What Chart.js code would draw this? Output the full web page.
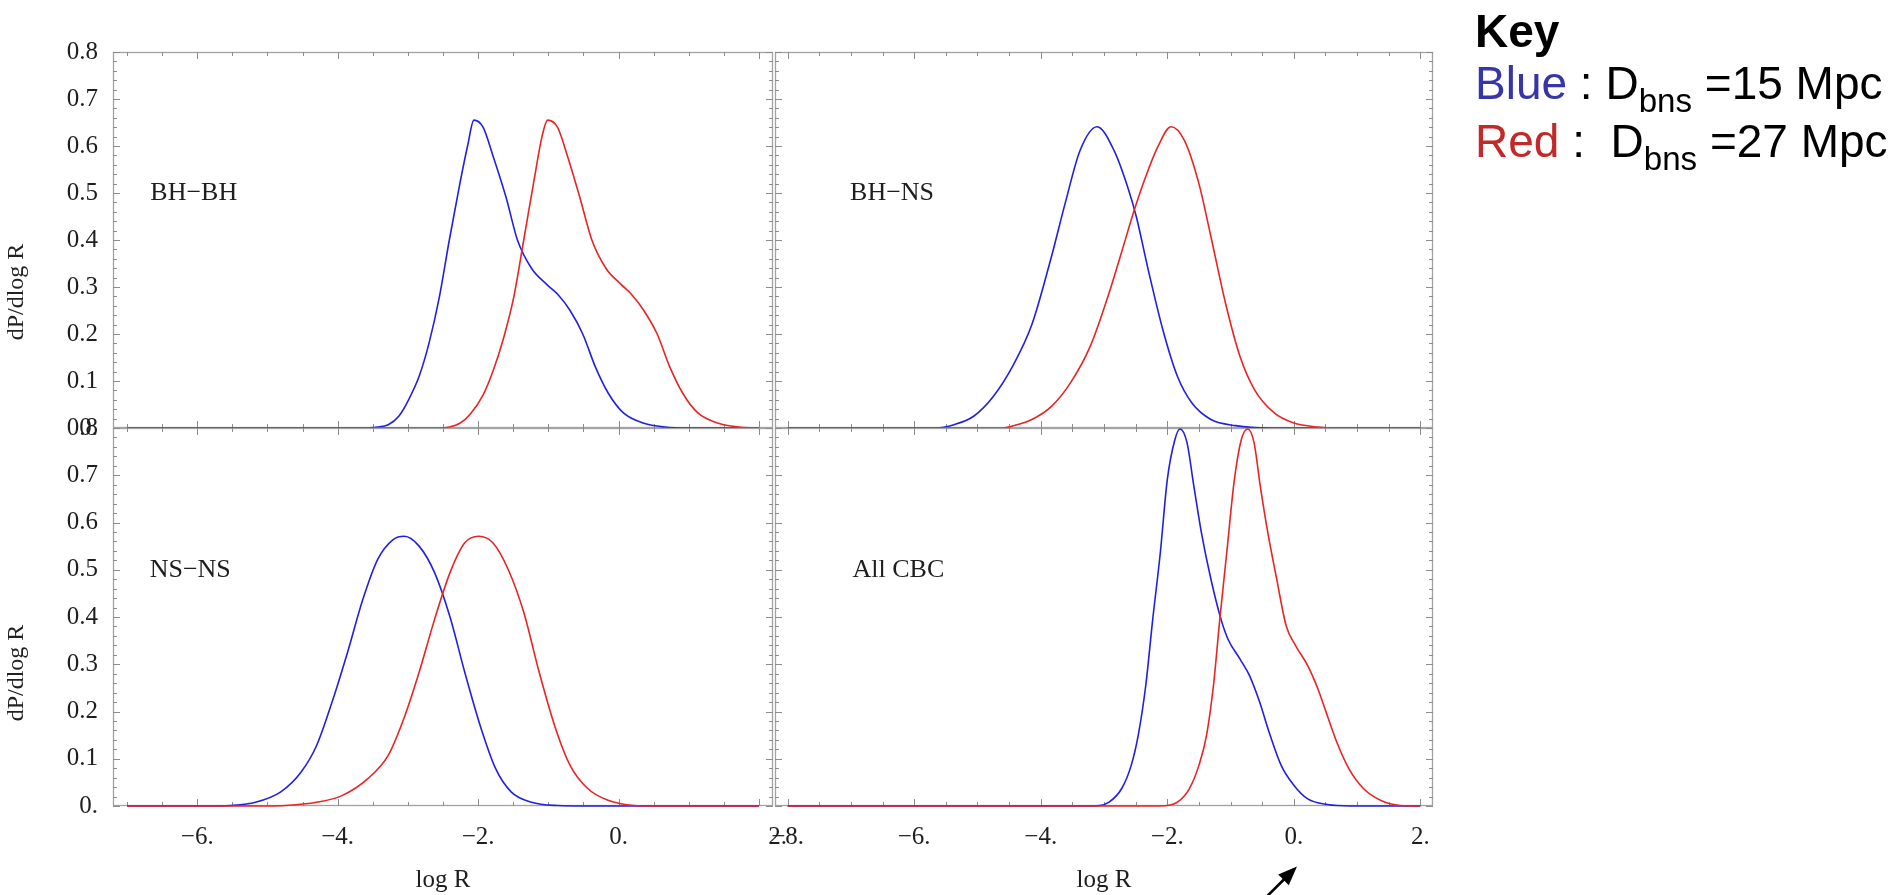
<!DOCTYPE html>
<html>
<head>
<meta charset="utf-8">
<script src="https://cdn.jsdelivr.net/npm/chart.js@4.4.1/dist/chart.umd.min.js"></script>
<style>
  html, body { margin: 0; padding: 0; background: #fff; }
  #page { position: relative; width: 1901px; height: 895px; overflow: hidden; }
  #page canvas { position: absolute; left: 0; top: 0; }
  .ytitle { position: absolute; font-family: "Liberation Serif", "Times New Roman", serif; font-size: 24px; color: #222;
            transform: translate(-50%, -50%) rotate(-90deg); white-space: nowrap; }
  .key { position: absolute; left: 1475px; font-family: "Liberation Sans", Arial, sans-serif; font-size: 46px;
         line-height: 1; white-space: nowrap; color: #000; }
  .key sub { font-size: 0.72em; vertical-align: -0.4em; line-height: 0; }
</style>
</head>
<body>
<div id="page">
  <canvas id="tl" width="1901" height="895"></canvas>
  <canvas id="tr" width="1901" height="895"></canvas>
  <canvas id="bl" width="1901" height="895"></canvas>
  <canvas id="br" width="1901" height="895"></canvas>
  <div class="ytitle" style="left:15px; top:292px">dP/dlog R</div>
  <div class="ytitle" style="left:15px; top:673px">dP/dlog R</div>
  <div class="key" style="top:8px; font-weight:bold">Key</div>
  <div class="key" style="top:60px"><span style="color:#3636a8">Blue</span> : D<sub>bns</sub> =15 Mpc</div>
  <div class="key" style="top:118px"><span style="color:#c22a2a">Red</span> :&nbsp; D<sub>bns</sub> =27 Mpc</div>
</div>
<script>
// curves (x = log R, y = dP/dlog R)
const bhbhBlueX = [-7, -3.72, -3.43, -3.28, -3.13, -2.99, -2.84, -2.70, -2.55, -2.41, -2.26, -2.15, -2.06, -1.93, -1.79, -1.60, -1.44, -1.24, -1.02, -0.87, -0.69, -0.51, -0.33, -0.15, 0.07, 0.36, 0.66, 1.0, 2.0];
const bhbhBlueY = [0, 0, 0.002, 0.007, 0.025, 0.06, 0.11, 0.18, 0.28, 0.40, 0.52, 0.60, 0.655, 0.64, 0.58, 0.49, 0.40, 0.34, 0.305, 0.285, 0.25, 0.20, 0.13, 0.075, 0.032, 0.01, 0.002, 0, 0];
const bhbhRedX = [-7, -2.55, -2.41, -2.26, -2.11, -1.93, -1.79, -1.64, -1.49, -1.35, -1.20, -1.09, -1.01, -0.87, -0.73, -0.55, -0.38, -0.18, 0.04, 0.18, 0.36, 0.55, 0.73, 0.91, 1.13, 1.42, 1.71, 2.0];
const bhbhRedY = [0, 0, 0.002, 0.01, 0.03, 0.07, 0.12, 0.19, 0.28, 0.40, 0.53, 0.62, 0.655, 0.64, 0.58, 0.49, 0.40, 0.34, 0.305, 0.285, 0.25, 0.20, 0.13, 0.075, 0.032, 0.01, 0.002, 0];

const bhnsBlueX = [-8, -5.67, -5.37, -5.06, -4.75, -4.45, -4.14, -3.83, -3.61, -3.38, -3.11, -2.84, -2.61, -2.49, -2.30, -2.07, -1.84, -1.61, -1.31, -0.92, -0.39, 2];
const bhnsBlueY = [0, 0, 0.007, 0.025, 0.067, 0.13, 0.22, 0.365, 0.48, 0.59, 0.641, 0.59, 0.506, 0.45, 0.336, 0.209, 0.11, 0.053, 0.018, 0.005, 0, 0];
const bhnsRedX = [-8, -4.6, -4.45, -4.14, -3.83, -3.53, -3.22, -2.92, -2.72, -2.53, -2.34, -2.15, -1.94, -1.73, -1.50, -1.31, -1.08, -0.85, -0.62, -0.31, -0.01, 0.38, 0.7, 2];
const bhnsRedY = [0, 0, 0.004, 0.018, 0.046, 0.096, 0.173, 0.287, 0.375, 0.46, 0.535, 0.598, 0.641, 0.612, 0.52, 0.407, 0.266, 0.152, 0.081, 0.032, 0.011, 0.002, 0, 0];

const nsnsBlueX = [-7, -5.8, -5.54, -5.17, -4.81, -4.52, -4.30, -4.08, -3.86, -3.64, -3.43, -3.21, -3.05, -2.84, -2.62, -2.40, -2.19, -1.97, -1.75, -1.53, -1.24, -0.87, -0.5, 2];
const nsnsBlueY = [0, 0, 0.001, 0.008, 0.03, 0.072, 0.128, 0.22, 0.325, 0.438, 0.522, 0.564, 0.571, 0.55, 0.494, 0.40, 0.283, 0.17, 0.079, 0.03, 0.008, 0.001, 0, 0];
const nsnsRedX = [-7, -5.0, -4.74, -4.30, -3.94, -3.57, -3.28, -3.06, -2.84, -2.62, -2.40, -2.19, -1.99, -1.79, -1.57, -1.35, -1.13, -0.91, -0.69, -0.44, -0.15, 0.22, 0.5, 2];
const nsnsRedY = [0, 0, 0.001, 0.008, 0.022, 0.058, 0.107, 0.184, 0.283, 0.395, 0.494, 0.557, 0.571, 0.557, 0.50, 0.41, 0.283, 0.17, 0.086, 0.037, 0.012, 0.001, 0, 0];

const cbcBlueX = [-8, -3.3, -3.07, -2.92, -2.72, -2.57, -2.46, -2.34, -2.23, -2.11, -2.00, -1.88, -1.80, -1.69, -1.58, -1.46, -1.31, -1.15, -1.04, -0.85, -0.70, -0.54, -0.39, -0.20, 0.00, 0.22, 0.53, 0.9, 2];
const cbcBlueY = [0, 0, 0.001, 0.008, 0.037, 0.086, 0.149, 0.255, 0.395, 0.536, 0.69, 0.775, 0.798, 0.77, 0.677, 0.578, 0.48, 0.395, 0.353, 0.311, 0.276, 0.22, 0.156, 0.086, 0.044, 0.015, 0.003, 0, 0];
const cbcRedX = [-8, -2.2, -2.0, -1.84, -1.65, -1.50, -1.38, -1.27, -1.17, -1.06, -0.94, -0.83, -0.73, -0.63, -0.53, -0.41, -0.27, -0.12, 0.03, 0.22, 0.38, 0.53, 0.68, 0.87, 1.10, 1.37, 1.68, 2.0];
const cbcRedY = [0, 0, 0.001, 0.008, 0.037, 0.086, 0.149, 0.255, 0.395, 0.536, 0.69, 0.775, 0.798, 0.77, 0.677, 0.578, 0.48, 0.381, 0.339, 0.297, 0.248, 0.191, 0.135, 0.079, 0.037, 0.012, 0.001, 0];

const leftXTicks = [-6, -4, -2, 0, 2];
const rightXTicks = [-8, -6, -4, -2, 0, 2];
const yTicks = [0, 0.1, 0.2, 0.3, 0.4, 0.5, 0.6, 0.7, 0.8];

const panelNames = ['BH\u2212BH', 'BH\u2212NS', 'NS\u2212NS', 'All CBC'];
const panelNameX = [-6.05, -6.35, -6.1, -6.25];
const panelNameY = [0.5, 0.5, 0.5, 0.5];

// arrow under the All CBC panel, in that panel's data units
const arrowFrom = [-0.49, -0.2];
const arrowTo = [0.05, -0.128];

const bleu = 'rgba(32, 32, 226, 1)';
const rouge = 'rgba(232, 36, 36, 1)';
const serif = '"Liberation Serif", "Times New Roman", serif';

const toPoints = (xs, ys) => xs.map((x, i) => ({ x: x, y: ys[i] }));

// the "2." of the left panels and the "-8." of the right ones run into each other, as in the original
function xLabel(v, scale) {
  const txt = (v < 0 ? '\u2212' + (-v) : v) + '.';
  if (v === scale.max - 0.2 && scale.min > -8) return '      ' + txt;
  if (v === scale.min + 0.2 && scale.min <= -8) return txt + '      ';
  return txt;
}

function framePlugin(p) {
  return {
    id: 'frame_' + p.id,
    beforeDatasetsDraw(chart) {
      const ctx = chart.ctx;
      const { left, right, top, bottom } = chart.chartArea;
      const xs = chart.scales.x, ys = chart.scales.y;
      ctx.save();
      ctx.strokeStyle = '#a3a3a3';
      ctx.lineWidth = 1.3;
      ctx.strokeRect(left + 0.5, top + 0.5, right - left - 1, bottom - top - 1);
      ctx.strokeStyle = '#8c8c8c';
      ctx.lineWidth = 1;
      ctx.beginPath();
      // x ticks, minor every 0.5, on bottom and top edges
      for (let v = Math.ceil(xs.min * 2) / 2; v <= xs.max; v += 0.5) {
        const px = Math.round(xs.getPixelForValue(v)) + 0.5;
        const len = p.xTicks.includes(v) ? 7 : 4;
        ctx.moveTo(px, bottom); ctx.lineTo(px, bottom - len);
        ctx.moveTo(px, top); ctx.lineTo(px, top + len);
      }
      // y ticks, minor every 0.02, on left and right edges
      for (let k = 0; k <= 40; k++) {
        const v = k / 50;
        const py = Math.round(ys.getPixelForValue(v)) + 0.5;
        const len = k % 5 === 0 ? 7 : 4;
        ctx.moveTo(left, py); ctx.lineTo(left + len, py);
        ctx.moveTo(right, py); ctx.lineTo(right - len, py);
      }
      ctx.stroke();
      ctx.restore();
    },
    afterDraw(chart) {
      const ctx = chart.ctx;
      const xs = chart.scales.x, ys = chart.scales.y;
      ctx.save();
      ctx.font = '26px ' + serif;
      ctx.fillStyle = '#1e1e1e';
      ctx.textAlign = 'center';
      ctx.textBaseline = 'middle';
      ctx.fillText(p.name, xs.getPixelForValue(p.nameX), ys.getPixelForValue(p.nameY));
      if (p.arrow) {
        const x0 = xs.getPixelForValue(arrowFrom[0]), y0 = ys.getPixelForValue(arrowFrom[1]);
        const x1 = xs.getPixelForValue(arrowTo[0]), y1 = ys.getPixelForValue(arrowTo[1]);
        const a = Math.atan2(y1 - y0, x1 - x0);
        const head = 19;
        ctx.strokeStyle = '#000';
        ctx.fillStyle = '#000';
        ctx.lineWidth = 2.6;
        ctx.beginPath();
        ctx.moveTo(x0, y0);
        ctx.lineTo(x1 - head * 0.8 * Math.cos(a), y1 - head * 0.8 * Math.sin(a));
        ctx.stroke();
        ctx.beginPath();
        ctx.moveTo(x1, y1);
        ctx.lineTo(x1 - head * Math.cos(a) + 7.5 * Math.sin(a), y1 - head * Math.sin(a) - 7.5 * Math.cos(a));
        ctx.lineTo(x1 - head * Math.cos(a) - 7.5 * Math.sin(a), y1 - head * Math.sin(a) + 7.5 * Math.cos(a));
        ctx.closePath();
        ctx.fill();
      }
      ctx.restore();
    }
  };
}

function makePanel(p) {
  const yAxisW = p.showY ? 60 : 0;
  const xAxisH = p.showX ? 89 : 0;
  return new Chart(document.getElementById(p.id), {
    type: 'line',
    data: {
      datasets: [
        { label: 'Blue', data: toPoints(p.blueX, p.blueY), borderColor: bleu, order: 1 },
        { label: 'Red', data: toPoints(p.redX, p.redY), borderColor: rouge, order: 0 }
      ]
    },
    options: {
      responsive: false,
      animation: false,
      devicePixelRatio: 1,
      layout: {
        padding: {
          left: p.area.left - yAxisW,
          top: p.area.top,
          right: 1901 - p.area.right,
          bottom: 895 - p.area.bottom - xAxisH
        }
      },
      elements: {
        point: { radius: 0 },
        line: { borderWidth: 1.6, cubicInterpolationMode: 'monotone', fill: false }
      },
      datasets: { line: { clip: 4 } },
      scales: {
        x: {
          type: 'linear',
          display: p.showX,
          min: p.xMin,
          max: p.xMax,
          grid: { display: false, drawTicks: false },
          border: { display: false },
          afterBuildTicks: s => { s.ticks = p.xTicks.map(v => ({ value: v })); },
          afterFit: s => { s.height = xAxisH; s.paddingLeft = 0; s.paddingRight = 0; },
          ticks: {
            autoSkip: false,
            maxRotation: 0,
            padding: 16,
            color: '#1e1e1e',
            font: { family: serif, size: 25 },
            callback: function (v) { return xLabel(v, this); }
          },
          title: {
            display: p.showX,
            text: 'log R',
            color: '#1e1e1e',
            font: { family: serif, size: 25 },
            padding: { top: 0, bottom: 0 }
          }
        },
        y: {
          type: 'linear',
          display: p.showY,
          min: 0,
          max: 0.8,
          grid: { display: false, drawTicks: false },
          border: { display: false },
          afterBuildTicks: s => { s.ticks = yTicks.map(v => ({ value: v })); },
          afterFit: s => { s.width = yAxisW; s.paddingTop = 0; s.paddingBottom = 0; },
          ticks: {
            padding: 15,
            color: '#1e1e1e',
            font: { family: serif, size: 25 },
            callback: v => v === 0 ? '0.' : v.toFixed(1)
          }
        }
      },
      plugins: {
        legend: { display: false },
        tooltip: { enabled: false }
      }
    },
    plugins: [framePlugin(p)]
  });
}

makePanel({ id: 'tl', blueX: bhbhBlueX, blueY: bhbhBlueY, redX: bhbhRedX, redY: bhbhRedY,
  xMin: -7.2, xMax: 2.2, xTicks: leftXTicks, showX: false, showY: true,
  area: { left: 113, top: 52, right: 773, bottom: 428 },
  name: panelNames[0], nameX: panelNameX[0], nameY: panelNameY[0] });
makePanel({ id: 'tr', blueX: bhnsBlueX, blueY: bhnsBlueY, redX: bhnsRedX, redY: bhnsRedY,
  xMin: -8.2, xMax: 2.2, xTicks: rightXTicks, showX: false, showY: false,
  area: { left: 775, top: 52, right: 1433, bottom: 428 },
  name: panelNames[1], nameX: panelNameX[1], nameY: panelNameY[1] });
makePanel({ id: 'bl', blueX: nsnsBlueX, blueY: nsnsBlueY, redX: nsnsRedX, redY: nsnsRedY,
  xMin: -7.2, xMax: 2.2, xTicks: leftXTicks, showX: true, showY: true,
  area: { left: 113, top: 428, right: 773, bottom: 806 },
  name: panelNames[2], nameX: panelNameX[2], nameY: panelNameY[2] });
makePanel({ id: 'br', blueX: cbcBlueX, blueY: cbcBlueY, redX: cbcRedX, redY: cbcRedY,
  xMin: -8.2, xMax: 2.2, xTicks: rightXTicks, showX: true, showY: false,
  area: { left: 775, top: 428, right: 1433, bottom: 806 },
  name: panelNames[3], nameX: panelNameX[3], nameY: panelNameY[3], arrow: true });
</script>
</body>
</html>
